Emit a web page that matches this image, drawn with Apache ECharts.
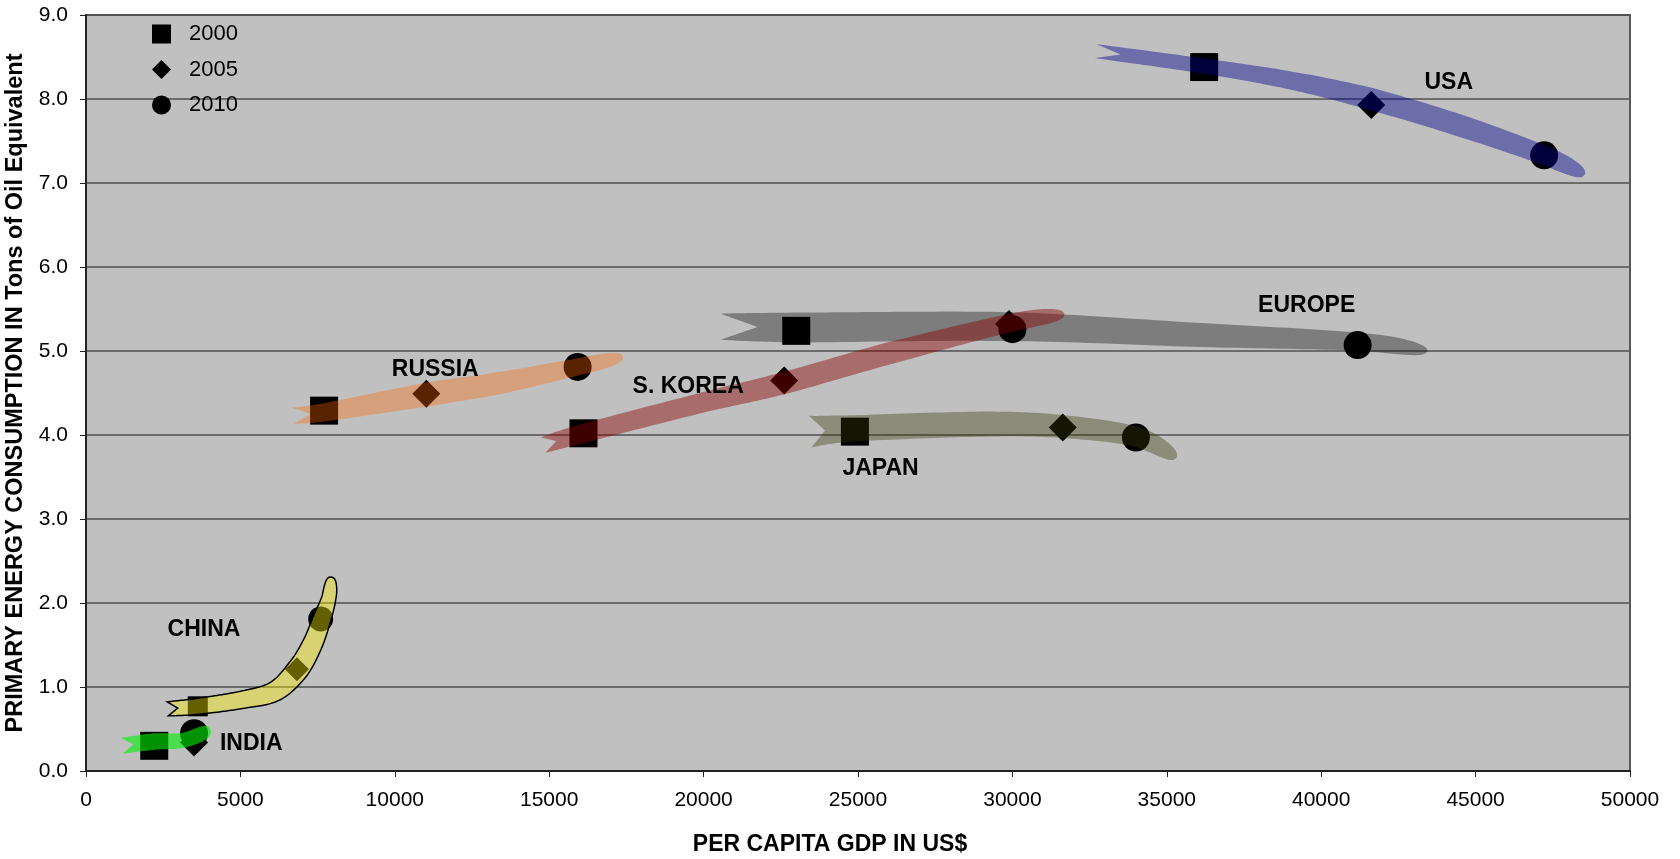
<!DOCTYPE html>
<html>
<head>
<meta charset="utf-8">
<script src="https://cdn.jsdelivr.net/npm/echarts@6/dist/echarts.min.js"></script>
<style>
  html, body { margin: 0; padding: 0; background: #ffffff; }
  #chart { width: 1680px; height: 859px; }
</style>
</head>
<body>
<div id="chart"></div>
<script>
// Per-capita GDP (US$) and primary energy use (toe per person)
const countries = ['USA', 'EUROPE', 'S. KOREA', 'JAPAN', 'RUSSIA', 'CHINA', 'INDIA'];
const gdp2000    = [36210, 23000, 16110, 24900, 7710, 3620, 2210];
const energy2000 = [8.38, 5.24, 4.02, 4.04, 4.29, 0.77, 0.30];
const gdp2005    = [41620, 29890, 22610, 31630, 11020, 6830, 3500];
const energy2005 = [7.93, 5.32, 4.65, 4.09, 4.49, 1.21, 0.34];
const gdp2010    = [47220, 41180, 30000, 34000, 15920, 7600, 3500];
const energy2010 = [7.33, 5.07, 5.26, 3.97, 4.81, 1.81, 0.45];

// Where each country's name sits (GDP, energy)
const labelGdp    = [44130, 39530, 19500, 25730, 11310, 3820, 5350];
const labelEnergy = [8.19, 5.54, 4.58, 3.60, 4.78, 1.68, 0.32];

// Trend ribbons: centre line through (GDP, energy) points for each country
const ribbonUSA    = [[32700, 8.57], [36230, 8.39], [39020, 8.22], [41610, 8.00], [44520, 7.68], [47210, 7.33], [48540, 7.10]];
const ribbonEurope = [[20550, 5.29], [23140, 5.28], [29880, 5.29], [36100, 5.19], [41190, 5.11], [43450, 5.00]];
const ribbonKorea  = [[14800, 3.88], [16110, 4.02], [19900, 4.38], [22620, 4.62], [26090, 4.98], [29880, 5.33], [31690, 5.44]];
const ribbonJapan  = [[23450, 4.04], [24890, 4.08], [29200, 4.13], [31630, 4.10], [33990, 3.98], [35320, 3.73]];
const ribbonRussia = [[6700, 4.23], [7710, 4.27], [11020, 4.48], [13420, 4.62], [15910, 4.81], [17400, 4.93]];
const ribbonChina  = [[2650, 0.74], [3630, 0.77], [5090, 0.85], [6120, 0.95], [6840, 1.20], [7320, 1.50], [7650, 1.82], [7870, 2.07], [7940, 2.31]];
const ribbonIndia  = [[1150, 0.30], [2200, 0.35], [3050, 0.36], [3600, 0.42], [4020, 0.50]];

// Ribbon look: half thickness (px) along the centre line, tail notch depth, fill
const ribbons = [
  { line: ribbonEurope, half: [13, 15, 14.5, 12, 9, 0], notch: 37, fill: 'rgba(0,0,0,0.35)' },
  { line: ribbonUSA, half: [7, 7.5, 9, 11, 11, 9.5, 0], notch: 25, fill: 'rgba(0,0,140,0.43)' },
  { line: ribbonKorea, half: [8, 9.5, 10, 11, 11, 9, 0], notch: 14, fill: 'rgba(136,0,0,0.44)' },
  { line: ribbonJapan, half: [16, 13, 12.5, 11.5, 10, 0], notch: 15, fill: 'rgba(55,55,10,0.38)' },
  { line: ribbonRussia, half: [8, 9, 12, 11, 8.5, 0], notch: 18, fill: 'rgba(255,100,0,0.35)' },
  { line: ribbonChina, half: [7, 8, 8.7, 10, 11, 10, 9, 7, 0], notch: 10, fill: 'rgba(250,240,0,0.4)', stroke: '#000' },
  { line: ribbonIndia, half: [8, 8.3, 7.5, 7.5, 0], notch: 12, fill: 'rgba(0,238,0,0.61)' }
];

// Marker sizes: China's markers are drawn smaller
const markerSize = { CHINA: [20, 24, 25] };
const defaultSize = 28;

function pointsFor(gdp, energy, k) {
  return countries.map((c, i) => ({
    name: c,
    value: [gdp[i], energy[i]],
    symbolSize: markerSize[c] ? markerSize[c][k] : defaultSize
  }));
}

function catmull(p0, p1, p2, p3, t) {
  const t2 = t * t, t3 = t2 * t;
  const f = (a, b, c, d) => 0.5 * (2 * b + (-a + c) * t + (2 * a - 5 * b + 4 * c - d) * t2 + (-a + 3 * b - 3 * c + d) * t3);
  return [f(p0[0], p1[0], p2[0], p3[0]), f(p0[1], p1[1], p2[1], p3[1])];
}

function ribbonPolygon(api, rb) {
  const pts = rb.line.map(p => api.coord(p));
  const n = pts.length;
  const samples = [];
  const steps = 20;
  for (let i = 0; i < n - 1; i++) {
    const p0 = pts[Math.max(i - 1, 0)], p1 = pts[i], p2 = pts[i + 1], p3 = pts[Math.min(i + 2, n - 1)];
    for (let s = 0; s < steps; s++) {
      const t = s / steps;
      const pos = catmull(p0, p1, p2, p3, t);
      let w;
      if (i === n - 2) w = rb.half[i] * Math.sqrt(Math.max(0, 1 - t * t));
      else w = rb.half[i] + (rb.half[i + 1] - rb.half[i]) * t;
      samples.push([pos[0], pos[1], w]);
    }
  }
  samples.push([pts[n - 1][0], pts[n - 1][1], 0]);
  const upper = [], lower = [];
  for (let k = 0; k < samples.length; k++) {
    const a = samples[Math.max(k - 1, 0)], b = samples[Math.min(k + 1, samples.length - 1)];
    let tx = b[0] - a[0], ty = b[1] - a[1];
    const len = Math.hypot(tx, ty) || 1;
    tx /= len; ty /= len;
    const nx = ty, ny = -tx;
    const s = samples[k];
    upper.push([s[0] + nx * s[2], s[1] + ny * s[2]]);
    lower.push([s[0] - nx * s[2], s[1] - ny * s[2]]);
  }
  const dx = samples[1][0] - samples[0][0], dy = samples[1][1] - samples[0][1];
  const dl = Math.hypot(dx, dy) || 1;
  const notch = [samples[0][0] + dx / dl * rb.notch, samples[0][1] + dy / dl * rb.notch];
  return upper.concat(lower.reverse(), [notch]);
}

const FONT = '"Liberation Sans", Arial, Helvetica, sans-serif';
const chart = echarts.init(document.getElementById('chart'), null, { renderer: 'canvas' });

chart.setOption({
  animation: false,
  backgroundColor: '#ffffff',
  textStyle: { fontFamily: FONT },
  grid: {
    left: 86, right: 50, top: 15, bottom: 88,
    outerBoundsMode: 'none', containLabel: false,
    show: true, backgroundColor: '#c0c0c0',
    borderColor: '#5a5a5a', borderWidth: 2
  },
  legend: {
    data: ['2000', '2005', '2010'],
    orient: 'vertical',
    left: 147, top: 18,
    itemWidth: 19, itemHeight: 19, itemGap: 13.5,
    selectedMode: false,
    textStyle: { fontSize: 22, color: '#000', fontFamily: FONT, padding: [0, 0, 0, 13] }
  },
  xAxis: {
    type: 'value', min: 0, max: 50000, interval: 5000,
    name: 'PER CAPITA GDP IN US$', nameLocation: 'middle', nameGap: 62,
    nameTextStyle: { fontSize: 23, fontWeight: 'bold', color: '#000', fontFamily: FONT, padding: [0, 56, 0, 0] },
    axisLine: { show: true, onZero: false, lineStyle: { color: '#222', width: 2 } },
    axisTick: { show: true, length: 6, lineStyle: { color: '#222', width: 1 } },
    axisLabel: { fontSize: 21, color: '#000', margin: 19, fontFamily: FONT, formatter: v => String(v) },
    splitLine: { show: false }
  },
  yAxis: {
    type: 'value', min: 0, max: 9, interval: 1,
    name: 'PRIMARY ENERGY CONSUMPTION IN Tons of Oil Equivalent', nameLocation: 'middle', nameGap: 55,
    nameTextStyle: { fontSize: 23.5, fontWeight: 'bold', color: '#000', fontFamily: FONT },
    axisLine: { show: true, onZero: false, lineStyle: { color: '#222', width: 2 } },
    axisTick: { show: true, length: 6, lineStyle: { color: '#222', width: 1 } },
    axisLabel: { fontSize: 21, color: '#000', margin: 18, fontFamily: FONT, formatter: v => v.toFixed(1) },
    splitLine: { show: true, lineStyle: { color: '#505050', width: 1.5 } }
  },
  series: [
    { name: '2000', type: 'scatter', symbol: 'rect', z: 2, itemStyle: { color: '#000', opacity: 1 }, data: pointsFor(gdp2000, energy2000, 0) },
    { name: '2005', type: 'scatter', symbol: 'diamond', z: 2, itemStyle: { color: '#000', opacity: 1 }, data: pointsFor(gdp2005, energy2005, 1) },
    { name: '2010', type: 'scatter', symbol: 'circle', z: 2, itemStyle: { color: '#000', opacity: 1 }, data: pointsFor(gdp2010, energy2010, 2) },
    {
      name: 'ribbons', type: 'custom', z: 3, silent: true,
      data: ribbons.map(r => r.line[0]),
      encode: { x: 0, y: 1 },
      renderItem: (params, api) => {
        const rb = ribbons[params.dataIndex];
        return {
          type: 'polygon',
          shape: { points: ribbonPolygon(api, rb) },
          style: { fill: rb.fill, stroke: rb.stroke || null, lineWidth: rb.stroke ? 1.5 : 0 }
        };
      }
    },
    {
      name: 'names', type: 'custom', z: 4, silent: true,
      data: countries.map((c, i) => [labelGdp[i], labelEnergy[i]]),
      encode: { x: 0, y: 1 },
      renderItem: (params, api) => {
        const p = api.coord([api.value(0), api.value(1)]);
        return {
          type: 'text', x: p[0], y: p[1],
          style: {
            text: countries[params.dataIndex],
            fontSize: 23, fontWeight: 'bold', fontFamily: FONT,
            fill: '#000', align: 'center', verticalAlign: 'middle'
          }
        };
      }
    }
  ]
});
</script>
</body>
</html>
